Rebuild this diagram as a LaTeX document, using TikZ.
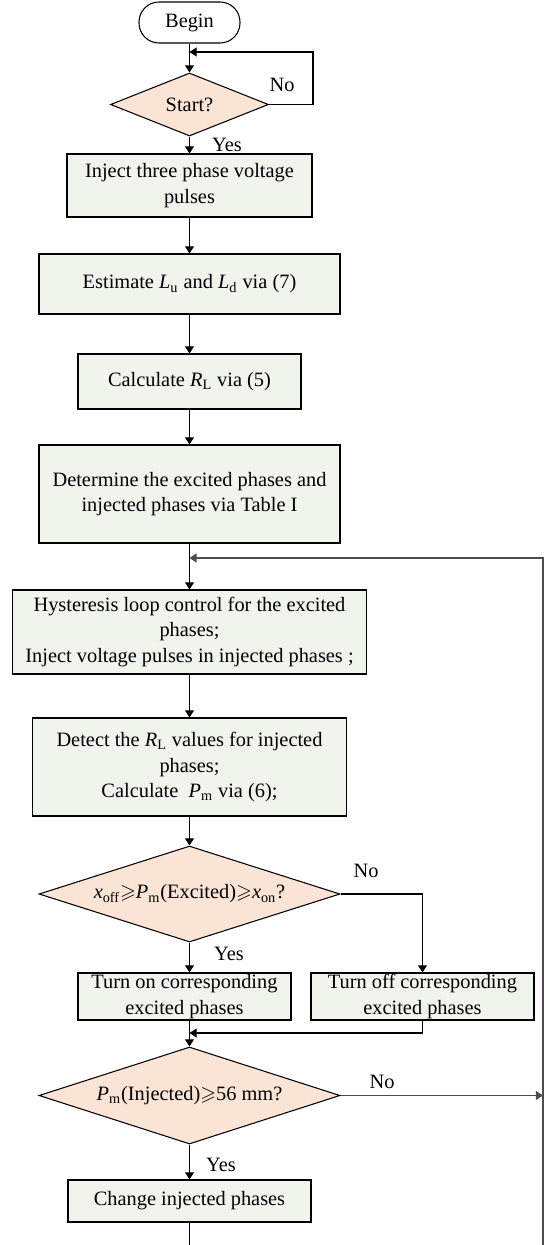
\documentclass[tikz,border=0pt]{standalone}
\usepackage{amssymb}
\usepackage{fontspec}
\setmainfont{Liberation Serif}
\usetikzlibrary{shapes.geometric,arrows.meta}
\definecolor{boxfill}{HTML}{F0F4EC}
\definecolor{decfill}{HTML}{FBE4D5}
\begin{document}
\begin{tikzpicture}[x=0.02cm, y=-0.02cm,
    font=\fontsize{11.6}{14.5}\selectfont,
    box/.style 2 args={draw, line width=0.6pt, fill=boxfill, inner sep=0pt, align=center,
        minimum width=#1*0.02cm, minimum height=#2*0.02cm},
    decision/.style 2 args={diamond, draw, line width=0.6pt, fill=decfill, inner sep=0pt,
        shape aspect=3, minimum width=#1*0.02cm, minimum height=#2*0.02cm},
    flow/.style={line width=0.6pt, -{Triangle[length=4pt, width=5pt]}},
    back/.style={line width=0.9pt, draw=black!70, -{Triangle[length=4pt, width=5pt]}}]
    \useasboundingbox (0,0) rectangle (544,1245);

    \node[draw, line width=0.6pt, rounded corners=0.4cm, minimum width=101*0.02cm, minimum height=41*0.02cm] (begin) at (189.5,22.5) {Begin};
    \node[decision={158}{63}] (start) at (189.5,104.5) {Start?};
    \node[box={245}{63}] (inject) at (189.5,185.5) {Inject three phase voltage\\pulses};
    \node[box={301}{60}] (estimate) at (189.5,284) {Estimate \textit{L}\textsubscript{u} and \textit{L}\textsubscript{d} via (7)};
    \node[box={223}{55}] (calcRL) at (189.5,381.5) {Calculate \textit{R}\textsubscript{L} via (5)};
    \node[box={301}{98}] (determine) at (189.5,494) {Determine the excited phases and\\injected phases via Table I};
    \node[box={354}{84}] (hysteresis) at (189.5,632) {Hysteresis loop control for the excited\\phases;\\Inject voltage pulses in injected phases ;};
    \node[box={314}{98}] (detect) at (189.5,767) {Detect the \textit{R}\textsubscript{L} values for injected\\phases;\\Calculate~ \textit{P}\textsubscript{m} via (6);};
    \node[decision={301}{96}] (excited) at (189.5,894) {\textit{x}\textsubscript{off}$\geqslant$\textit{P}\textsubscript{m}(Excited)$\geqslant$\textit{x}\textsubscript{on}?};
    \node[box={213}{47}] (turnon) at (184.5,996.5) {Turn on corresponding\\excited phases};
    \node[box={223}{47}] (turnoff) at (422.5,996.5) {Turn off corresponding\\excited phases};
    \node[decision={301}{97}] (injected) at (189.5,1095.5) {\textit{P}\textsubscript{m}(Injected)$\geqslant$56 mm?};
    \node[box={243}{42}] (change) at (189.5,1201) {Change injected phases};

    \coordinate (startloop) at (189.5,52);
    \coordinate (mainloop) at (189.5,558);
    \coordinate (merge) at (189.5,1033);
    \coordinate (rightbottom) at (543,1245);
    \coordinate (bottom) at (189.5,1245);

    \draw[flow] (begin) -- (start);
    \draw[flow] (start.east) -- (313,104.5) |- (startloop);
    \node at (282,85) {No};
    \draw[flow] (start) -- (inject);
    \node at (227,145) {Yes};
    \draw[flow] (inject) -- (estimate);
    \draw[flow] (estimate) -- (calcRL);
    \draw[flow] (calcRL) -- (determine);
    \draw[flow] (determine) -- (hysteresis);
    \draw[flow] (hysteresis) -- (detect);
    \draw[flow] (detect) -- (excited);
    \draw[flow] (excited.south) -- (excited.south |- turnon.north);
    \node at (229,954) {Yes};
    \draw[flow] (excited.east) -| (turnoff.north);
    \node at (366,871) {No};
    \draw[flow] (turnon.south -| excited.south) -- (injected.north);
    \draw[flow] (turnoff.south) |- (merge);
    \draw[back] (injected.east) -- (injected.east -| rightbottom);
    \node at (382,1082) {No};
    \draw[flow] (injected) -- (change);
    \node at (221,1165) {Yes};
    \draw[line width=0.6pt] (change) -- (bottom);
    \draw[back] (rightbottom) -- (rightbottom |- mainloop) -- (mainloop);
\end{tikzpicture}
\end{document}
